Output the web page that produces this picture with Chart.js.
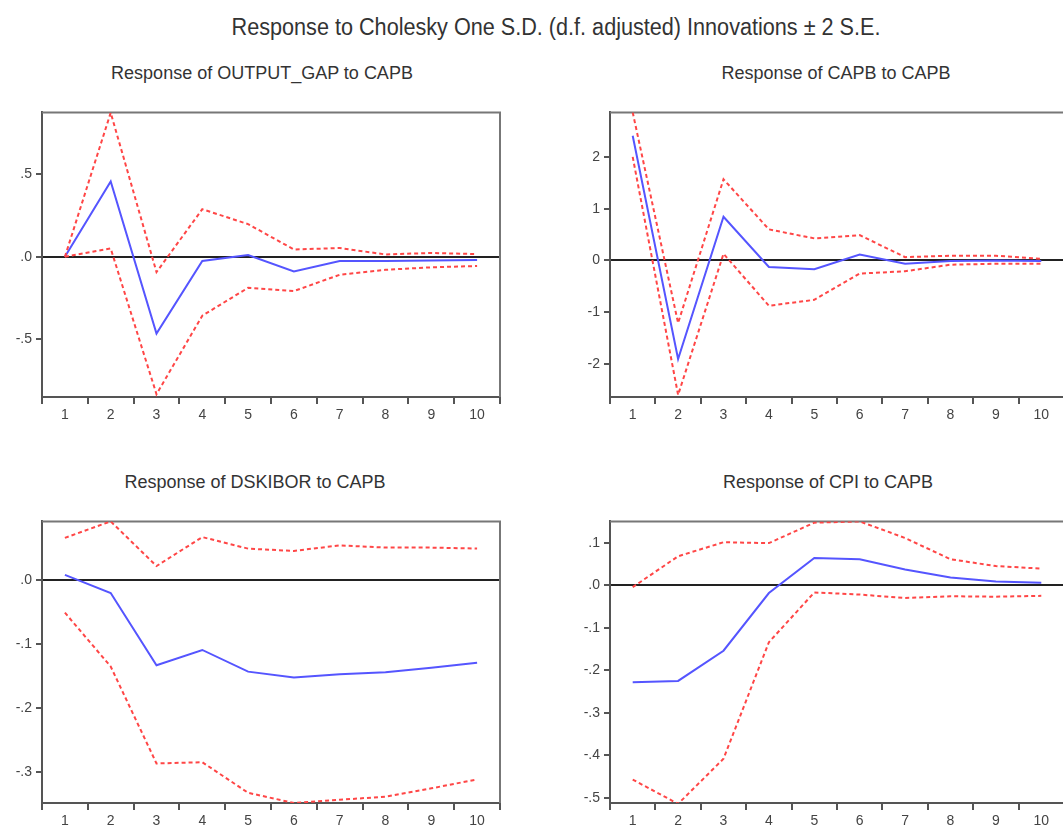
<!DOCTYPE html>
<html>
<head>
<meta charset="utf-8">
<script src="https://cdn.jsdelivr.net/npm/chart.js@4.4.1/dist/chart.umd.min.js"></script>
<style>
  html, body { margin: 0; padding: 0; background: #fff; }
  body { width: 1063px; height: 830px; overflow: hidden; position: relative;
         font-family: "Liberation Sans", Arial, sans-serif; color: #333; }
  .t { position: absolute; white-space: nowrap; line-height: 1; }
  canvas { position: absolute; }
</style>
</head>
<body>
<div class="t" style="left:556px;top:27px;font-size:23px;transform:translate(-50%,-50%) scaleX(0.94)">Response to Cholesky One S.D. (d.f. adjusted) Innovations ± 2 S.E.</div>
<div class="t" style="left:262px;top:73px;font-size:18px;transform:translate(-50%,-50%)">Response of OUTPUT_GAP to CAPB</div>
<div class="t" style="left:836px;top:73px;font-size:18px;transform:translate(-50%,-50%)">Response of CAPB to CAPB</div>
<div class="t" style="left:255px;top:482px;font-size:18px;transform:translate(-50%,-50%)">Response of DSKIBOR to CAPB</div>
<div class="t" style="left:828px;top:482px;font-size:18px;transform:translate(-50%,-50%)">Response of CPI to CAPB</div>

<canvas id="c1" width="510" height="330" style="left:0;top:100px"></canvas>
<canvas id="c2" width="500" height="330" style="left:568px;top:100px"></canvas>
<canvas id="c3" width="510" height="327" style="left:0;top:509px"></canvas>
<canvas id="c4" width="500" height="327" style="left:568px;top:509px"></canvas>

<script>
// Forecast horizon (periods after the shock)
const periods = ['1', '2', '3', '4', '5', '6', '7', '8', '9', '10'];

// Response of OUTPUT_GAP to CAPB
const gapResp  = [0.000, 0.456, -0.466, -0.026, 0.010, -0.089, -0.026, -0.025, -0.022, -0.020];
const gapUpper = [0.000, 0.873, -0.093, 0.288, 0.198, 0.044, 0.053, 0.014, 0.023, 0.016];
const gapLower = [0.000, 0.050, -0.833, -0.357, -0.188, -0.208, -0.109, -0.079, -0.064, -0.056];
const gapTicks = [0.5, 0, -0.5];
const gapTickLabels = ['.5', '.0', '-.5'];

// Response of CAPB to CAPB
const capbResp  = [2.41, -1.905, 0.844, -0.128, -0.170, 0.114, -0.065, -0.010, 0.000, -0.010];
const capbUpper = [2.86, -1.21, 1.568, 0.600, 0.425, 0.488, 0.063, 0.090, 0.090, 0.030];
const capbLower = [2.00, -2.60, 0.127, -0.876, -0.762, -0.255, -0.210, -0.083, -0.065, -0.065];
const capbTicks = [2, 1, 0, -1, -2];
const capbTickLabels = ['2', '1', '0', '-1', '-2'];

// Response of DSKIBOR to CAPB
const kiborResp  = [0.0087, -0.0196, -0.133, -0.109, -0.143, -0.152, -0.147, -0.144, -0.137, -0.129];
const kiborUpper = [0.0668, 0.0926, 0.0226, 0.068, 0.0499, 0.0463, 0.055, 0.0515, 0.0515, 0.050];
const kiborLower = [-0.0505, -0.135, -0.287, -0.285, -0.333, -0.349, -0.344, -0.339, -0.326, -0.312];
const kiborTicks = [0, -0.1, -0.2, -0.3];
const kiborTickLabels = ['.0', '-.1', '-.2', '-.3'];

// Response of CPI to CAPB
const cpiResp  = [-0.228, -0.225, -0.154, -0.0185, 0.064, 0.061, 0.037, 0.018, 0.0085, 0.006];
const cpiUpper = [-0.0046, 0.068, 0.101, 0.099, 0.147, 0.150, 0.111, 0.061, 0.045, 0.039];
const cpiLower = [-0.457, -0.514, -0.408, -0.134, -0.017, -0.022, -0.030, -0.026, -0.027, -0.025];
const cpiTicks = [0.1, 0, -0.1, -0.2, -0.3, -0.4, -0.5];
const cpiTickLabels = ['.1', '.0', '-.1', '-.2', '-.3', '-.4', '-.5'];

const BLUE = 'rgb(85, 85, 255)';
const RED = 'rgb(255, 70, 70)';
const AXIS = '#555';
const LABEL_FONT = { family: '"Liberation Sans", Arial, sans-serif', size: 14 };

// Top and right edges of the plot frame
const framePlugin = {
  id: 'frame',
  beforeDatasetsDraw(chart) {
    const a = chart.chartArea, ctx = chart.ctx;
    ctx.save();
    ctx.strokeStyle = '#777';
    ctx.lineWidth = 2;
    ctx.beginPath();
    ctx.moveTo(a.left, a.top);
    ctx.lineTo(a.right, a.top);
    ctx.lineTo(a.right, a.bottom);
    ctx.stroke();
    ctx.restore();
  }
};

function panel(id, resp, upper, lower, yMin, yMax, tickVals, tickLabels, rightPad) {
  const band = (data) => ({
    data, borderColor: RED, borderWidth: 2, borderDash: [4, 3],
    pointRadius: 0, tension: 0, fill: false
  });
  return new Chart(document.getElementById(id), {
    type: 'line',
    data: {
      labels: periods,
      datasets: [
        band(upper),
        band(lower),
        { data: resp, borderColor: BLUE, borderWidth: 2, pointRadius: 0, tension: 0, fill: false }
      ]
    },
    options: {
      responsive: false,
      animation: false,
      events: [],
      layout: { padding: { top: 8, right: rightPad, left: 0, bottom: 0 }, autoPadding: false },
      plugins: { legend: { display: false }, tooltip: { enabled: false }, title: { display: false } },
      scales: {
        x: {
          type: 'category',
          offset: true,
          grid: { offset: true, drawOnChartArea: false, tickLength: 7, tickColor: AXIS, lineWidth: 2 },
          border: { color: AXIS, width: 2 },
          ticks: { color: '#444', font: LABEL_FONT, padding: 3, maxRotation: 0, autoSkip: false },
          afterFit: (s) => { s.height = 33; }
        },
        y: {
          min: yMin,
          max: yMax,
          afterBuildTicks: (s) => { s.ticks = tickVals.map(v => ({ value: v })); },
          ticks: {
            color: '#444', font: LABEL_FONT, padding: 4,
            callback: (v) => tickLabels[tickVals.indexOf(v)]
          },
          grid: {
            color: (c) => (c.tick && c.tick.value === 0) ? '#222' : 'rgba(0,0,0,0)',
            lineWidth: 2, tickLength: 6, tickColor: AXIS, drawTicks: true
          },
          border: { color: AXIS, width: 2 },
          afterFit: (s) => { s.width = 42; }
        }
      }
    },
    plugins: [framePlugin]
  });
}

panel('c1', gapResp, gapUpper, gapLower, -0.85, 0.875, gapTicks, gapTickLabels, 10);
panel('c2', capbResp, capbUpper, capbLower, -2.64, 2.86, capbTicks, capbTickLabels, 4);
panel('c3', kiborResp, kiborUpper, kiborLower, -0.349, 0.0926, kiborTicks, kiborTickLabels, 10);
panel('c4', cpiResp, cpiUpper, cpiLower, -0.512, 0.150, cpiTicks, cpiTickLabels, 4);
</script>
</body>
</html>
